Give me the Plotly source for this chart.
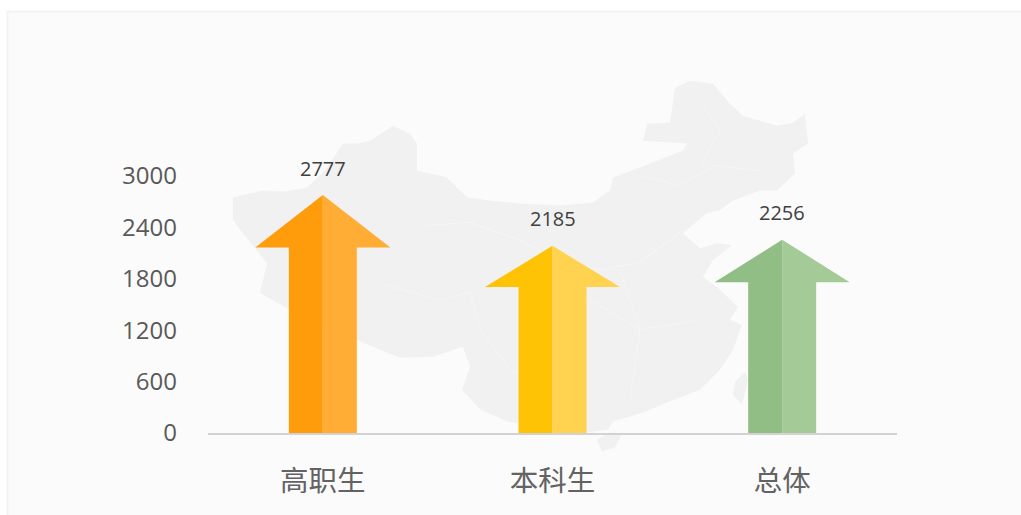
import plotly.graph_objects as go

categories = ["高职生", "本科生", "总体"]
values = [2777, 2185, 2256]
y_ticks = [0, 600, 1200, 1800, 2400, 3000]
left_colors = ["#FF9C0C", "#FFC305", "#90BE84"]
right_colors = ["#FFAD35", "#FFD34F", "#A4CA98"]

# Arrow proportions
SHAFT = 0.148
HEAD = 0.294
NECK = 0.78

# Faint decorative map behind the chart (page pixels)
map_outline = [(233,197),(263,190),(285,191),(307,187),(325,170),(343,143),(358,143),(370,140),(393,125),(410,133),(417,143),(417,170),(447,177),
 (467,197),(490,200),(520,203),(560,205),(593,202),(610,190),(613,177),(650,163),(683,150),(687,143),(643,140),(647,123),(670,122),
 (675,87),(690,80),(713,83),(730,103),(743,115),(777,125),(793,122),(805,113),(808,143),(793,153),(795,173),
 (777,190),(760,190),(733,200),(720,210),(707,213),(683,233),(700,248),(717,243),(732,245),(713,260),(703,277),
 (717,287),(738,307),(730,320),(742,325),(733,350),(720,370),(700,390),(667,403),(643,413),(613,422),(608,430),
 (587,433),(545,428),(507,422),(480,410),(462,390),(470,367),(463,347),(433,357),(400,358),(363,343),(333,327),
 (290,310),(260,293),(267,263),(243,233),(233,220)]
hainan = [(597,440),(610,433),(622,434),(615,448),(602,452)]
taiwan = [(745,372),(748,380),(742,405),(733,395),(735,382)]
borders = [
 [(427,225),(470,222),(520,240),(560,262),(600,270),(640,262)],
 [(385,285),(440,300),(470,292),(480,330),(510,370),(560,395)],
 [(640,262),(680,232)],
 [(590,300),(640,330),(700,320)],
 [(620,270),(640,330),(630,400)],
 [(640,175),(680,185),(715,165),(760,170)],
 [(700,100),(720,130),(700,165)],
]

PL, PR, PT, PB = 208, 897, 175.5, 433.5
def px(p):
    return (p[0] - PL) / (PR - PL), (PB - p[1]) / (PB - PT)
def path(points, close=True):
    s = "M" + " L".join("%.4f,%.4f" % px(p) for p in points)
    return s + (" Z" if close else "")

shapes = [dict(type="path", xref="paper", yref="paper", layer="below",
               path=path([(7.5,10.5),(1030,10.5),(1030,530),(7.5,530)]),
               fillcolor="#FBFBFB", line=dict(color="#F3F3F3", width=2))]
for poly in (map_outline, hainan, taiwan):
    shapes.append(dict(type="path", xref="paper", yref="paper", layer="below", path=path(poly),
                       fillcolor="#F1F1F1", line=dict(width=0)))
for b in borders:
    shapes.append(dict(type="path", xref="paper", yref="paper", layer="below", path=path(b, False),
                       line=dict(color="#F6F6F6", width=1)))

fig = go.Figure()
for i, (c, v) in enumerate(zip(categories, values)):
    neck = v * NECK
    fig.add_trace(go.Scatter(
        x=[i, i - HEAD, i - SHAFT, i - SHAFT, i, i], y=[v, neck, neck, 0, 0, v],
        mode="lines", fill="toself", fillcolor=left_colors[i], line=dict(width=0), name=c + " L",
        hoverinfo="skip", showlegend=False))
    fig.add_trace(go.Scatter(
        x=[i, i + HEAD, i + SHAFT, i + SHAFT, i, i], y=[v, neck, neck, 0, 0, v],
        mode="lines", fill="toself", fillcolor=right_colors[i], line=dict(width=0), name=c + " R",
        hoverinfo="skip", showlegend=False))

annotations = [dict(x=i, y=v, xref="x", yref="y", text=str(v), showarrow=False, yanchor="middle", yshift=27,
                    font=dict(family="Open Sans, Noto Sans CJK SC", size=20, color="#404040"))
               for i, v in enumerate(values)]

fig.update_layout(
    width=1021, height=515, autosize=False,
    margin=dict(l=PL, r=1021 - PR, t=PT, b=515 - PB, pad=0),
    paper_bgcolor="#FFFFFF", plot_bgcolor="rgba(0,0,0,0)",
    shapes=shapes, annotations=annotations, showlegend=False, hovermode=False,
    xaxis=dict(range=[-0.5, 2.5], tickmode="array", tickvals=[0, 1, 2], ticktext=categories,
               showgrid=False, zeroline=False, showline=True, linecolor="#D2D2D2", linewidth=2,
               ticks="", ticklabelstandoff=22,
               tickfont=dict(family="Noto Sans CJK SC", size=28.5, color="#636363")),
    yaxis=dict(range=[0, 3000], tickmode="array", tickvals=y_ticks, showgrid=False, zeroline=False,
               showline=False, ticks="", ticklabelstandoff=30,
               tickfont=dict(family="Open Sans, Noto Sans CJK SC", size=24, color="#595959")),
)
fig.write_html("out.html", config=dict(displayModeBar=False),
               post_script="document.body.style.margin='0';")
